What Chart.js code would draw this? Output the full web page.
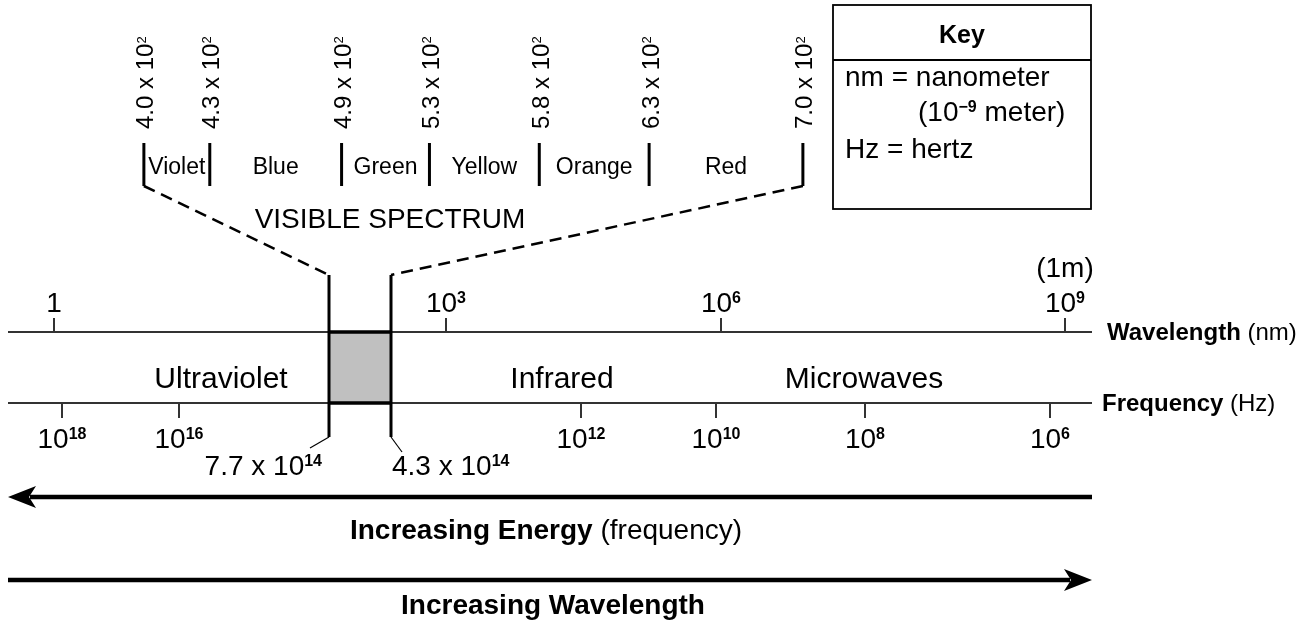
<!DOCTYPE html>
<html>
<head>
<meta charset="utf-8">
<script src="https://cdn.jsdelivr.net/npm/chart.js@4.4.1/dist/chart.umd.min.js"></script>
<style>
  html, body { margin: 0; padding: 0; background: #fff; }
  #wrap { width: 1309px; height: 630px; position: relative; }
</style>
</head>
<body>
<div id="wrap"><canvas id="spectrum"></canvas></div>
<script>
// tick values on the two strips (powers of ten)
var waveExp = [0, 3, 6, 9];              // wavelength, nm
var freqExp = [18, 16, 12, 10, 8, 6];    // frequency, Hz
var regions = ['Ultraviolet', 'Infrared', 'Microwaves'];

// visible spectrum detail, band edges in nm
var colours = ['Violet', 'Blue', 'Green', 'Yellow', 'Orange', 'Red'];
var colourEdges = [400, 430, 490, 530, 580, 630, 700];
var visibleFreq = [7.7, 4.3];            // x 10^14 Hz at the violet / red ends

// where things sit on the schematic strip (the strip is not drawn to scale)
var waveAt = [54, 446, 721, 1065];
var freqAt = [62, 179, 581, 716, 865, 1050];
var regionAt = [221, 562, 864];
var visibleAt = [329, 391];
var stripFrom = 8, stripTo = 1092;
var waveRow = 332, freqRow = 403;
var energyRow = 497, lengthRow = 580;

function font(size, bold) {
    return (bold ? 'bold ' : '') + size + 'px "Liberation Sans", Arial, Helvetica, sans-serif';
}

// draw text made of pieces, some bold, some superscript
function richText(ctx, segs, x, y, size, align) {
    var parts = segs.map(function (s) {
        var sz = s.sup ? Math.round(size * 0.56) : size;
        var f = font(sz, s.b);
        ctx.font = f;
        return { t: s.t, f: f, w: ctx.measureText(s.t).width, dy: s.sup ? -(size - sz) * 0.716 : 0 };
    });
    var total = 0;
    parts.forEach(function (p) { total += p.w; });
    var cx = align === 'center' ? x - total / 2 : (align === 'right' ? x - total : x);
    ctx.textAlign = 'left';
    ctx.textBaseline = 'alphabetic';
    parts.forEach(function (p) {
        ctx.font = p.f;
        ctx.fillText(p.t, cx, y + p.dy);
        cx += p.w;
    });
}

function seg(ctx, x1, y1, x2, y2) {
    ctx.beginPath();
    ctx.moveTo(x1, y1);
    ctx.lineTo(x2, y2);
    ctx.stroke();
}

var diagram = {
    id: 'spectrumDiagram',
    afterDatasetsDraw: function (chart) {
        var ctx = chart.ctx;
        var X = function (v) { return chart.scales.x.getPixelForValue(v); };
        var Y = function (v) { return chart.scales.y.getPixelForValue(v); };
        var V = function (nm) { return chart.scales.xVis.getPixelForValue(nm); };
        ctx.save();
        ctx.fillStyle = '#000';
        ctx.lineCap = 'butt';

        // wavelength ticks
        ctx.strokeStyle = '#333';
        ctx.lineWidth = 2;
        waveExp.forEach(function (e, i) {
            var px = X(waveAt[i]);
            seg(ctx, px, Y(waveRow - 14), px, Y(waveRow));
            richText(ctx, e === 0 ? [{ t: '1' }] : [{ t: '10' }, { t: String(e), sup: true, b: true }], px, Y(waveRow - 20), 28, 'center');
        });
        richText(ctx, [{ t: '(1m)' }], X(waveAt[3]), Y(277), 28, 'center');

        // frequency ticks
        freqExp.forEach(function (e, i) {
            var px = X(freqAt[i]);
            seg(ctx, px, Y(freqRow), px, Y(freqRow + 15));
            richText(ctx, [{ t: '10' }, { t: String(e), sup: true, b: true }], px, Y(freqRow + 45), 28, 'center');
        });

        // axis titles
        richText(ctx, [{ t: 'Wavelength', b: true }, { t: ' (nm)' }], X(1107), Y(waveRow + 8), 24, 'left');
        richText(ctx, [{ t: 'Frequency', b: true }, { t: ' (Hz)' }], X(1102), Y(freqRow + 8), 24, 'left');

        // region names
        regions.forEach(function (r, i) {
            richText(ctx, [{ t: r }], X(regionAt[i]), Y(388), 30, 'center');
        });

        // visible window on the strip
        var l = X(visibleAt[0]), r = X(visibleAt[1]);
        ctx.fillStyle = '#c0c0c0';
        ctx.fillRect(l, Y(waveRow), r - l, Y(freqRow) - Y(waveRow));
        ctx.fillStyle = '#000';
        ctx.strokeStyle = '#000';
        ctx.lineWidth = 3.5;
        seg(ctx, l, Y(waveRow), r, Y(waveRow));
        seg(ctx, l, Y(freqRow), r, Y(freqRow));
        ctx.lineWidth = 3;
        seg(ctx, l, Y(275), l, Y(437));
        seg(ctx, r, Y(275), r, Y(437));

        // frequency at the two edges
        ctx.lineWidth = 1.2;
        seg(ctx, l, Y(437), l - 19, Y(448));
        seg(ctx, r, Y(437), r + 11, Y(452));
        visibleFreq.forEach(function (f, i) {
            var segs = [{ t: f.toFixed(1) + ' x 10' }, { t: '14', sup: true, b: true }];
            if (i === 0) richText(ctx, segs, l - 7, Y(475), 28, 'right');
            else richText(ctx, segs, r + 1, Y(475), 28, 'left');
        });

        // dashed leaders to the detail
        var first = V(colourEdges[0]), last = V(colourEdges[colourEdges.length - 1]);
        ctx.lineWidth = 2.5;
        ctx.setLineDash([12, 7]);
        seg(ctx, first, Y(186), l, Y(275));
        seg(ctx, last, Y(186), r, Y(275));
        ctx.setLineDash([]);

        richText(ctx, [{ t: 'VISIBLE SPECTRUM' }], X(390), Y(228), 28, 'center');

        // colour bands
        ctx.lineWidth = 3;
        colourEdges.forEach(function (nm) {
            var px = V(nm);
            seg(ctx, px, Y(143), px, Y(186));
            ctx.save();
            ctx.translate(px + 9.5, Y(129));
            ctx.rotate(-Math.PI / 2);
            richText(ctx, [{ t: (nm / 100).toFixed(1) + ' x 10' }, { t: '2', sup: true }], 0, 0, 24, 'left');
            ctx.restore();
        });
        colours.forEach(function (c, i) {
            var mid = V((colourEdges[i] + colourEdges[i + 1]) / 2);
            richText(ctx, [{ t: c }], mid, Y(174), 23, 'center');
        });

        // arrow heads
        var yE = Y(energyRow), yL = Y(lengthRow);
        var t1 = X(stripFrom), t2 = X(stripTo);
        ctx.beginPath();
        ctx.moveTo(t1, yE); ctx.lineTo(t1 + 28, yE - 11); ctx.lineTo(t1 + 21, yE); ctx.lineTo(t1 + 28, yE + 11);
        ctx.closePath(); ctx.fill();
        ctx.beginPath();
        ctx.moveTo(t2, yL); ctx.lineTo(t2 - 28, yL - 11); ctx.lineTo(t2 - 21, yL); ctx.lineTo(t2 - 28, yL + 11);
        ctx.closePath(); ctx.fill();

        var mid = (X(stripFrom) + X(stripTo)) / 2;
        richText(ctx, [{ t: 'Increasing Energy', b: true }, { t: ' (frequency)' }], mid - 4, Y(539), 28, 'center');
        richText(ctx, [{ t: 'Increasing Wavelength', b: true }], mid + 3, Y(614), 28, 'center');

        // key box
        ctx.lineWidth = 1.8;
        ctx.strokeStyle = '#000';
        ctx.strokeRect(X(833), Y(5), X(1091) - X(833), Y(209) - Y(5));
        seg(ctx, X(833), Y(60), X(1091), Y(60));
        richText(ctx, [{ t: 'Key', b: true }], X(962), Y(43), 25, 'center');
        richText(ctx, [{ t: 'nm = nanometer' }], X(845), Y(86), 28, 'left');
        richText(ctx, [{ t: '(10' }, { t: '\u22129', sup: true, b: true }, { t: ' meter)' }], X(918), Y(121), 28, 'left');
        richText(ctx, [{ t: 'Hz = hertz' }], X(845), Y(158), 28, 'left');

        ctx.restore();
    }
};

function strip(label, row, from, to, colour, width) {
    return {
        label: label,
        data: [{ x: from, y: row }, { x: to, y: row }],
        showLine: true,
        borderColor: colour,
        borderWidth: width,
        pointRadius: 0,
        clip: false
    };
}

new Chart(document.getElementById('spectrum'), {
    type: 'scatter',
    data: {
        datasets: [
            strip('Wavelength', waveRow, stripFrom, stripTo, '#333', 2),
            strip('Frequency', freqRow, stripFrom, stripTo, '#333', 2),
            strip('Increasing Energy', energyRow, stripFrom + 22, stripTo, '#000', 4.5),
            strip('Increasing Wavelength', lengthRow, stripFrom, stripTo - 22, '#000', 4.5)
        ]
    },
    options: {
        responsive: true,
        maintainAspectRatio: false,
        animation: false,
        layout: { padding: 0 },
        plugins: { legend: { display: false }, tooltip: { enabled: false } },
        scales: {
            x: { type: 'linear', min: 0, max: 1309, display: false },
            y: { type: 'linear', min: 0, max: 630, reverse: true, display: false },
            // visible detail is a linear nm scale
            xVis: { type: 'linear', axis: 'x', min: 334.5, max: 930.4, display: false }
        }
    },
    plugins: [diagram]
});
</script>
</body>
</html>
